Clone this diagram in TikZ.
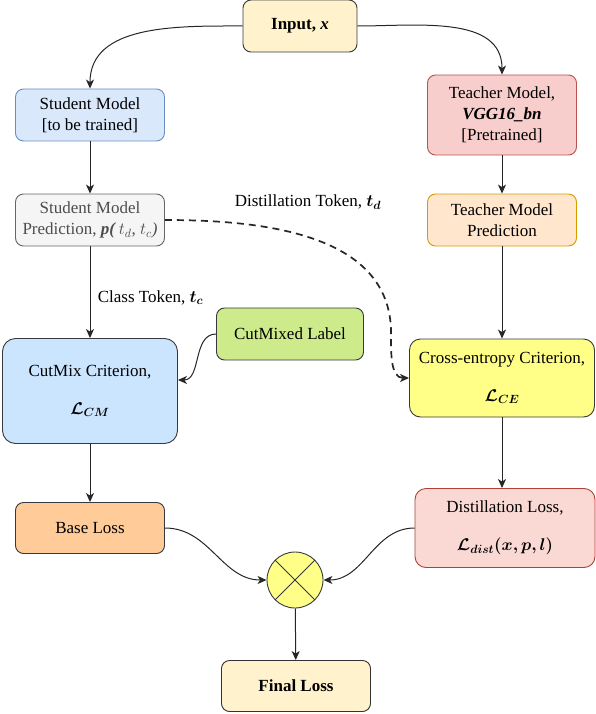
\documentclass[tikz,border=0pt]{standalone}
\usepackage{fix-cm}
\usepackage{amsmath}
\usepackage{bm}
\usepackage{fontspec}
\setmainfont{Liberation Serif}
\usepackage{xcolor}
\usepackage{tikz}
\usetikzlibrary{arrows.meta}
\definecolor{edgegray}{HTML}{36393D}
\tikzstyle{arrow} = [-{Stealth[length=9pt, width=8pt, inset=2.5pt]}, line width=1pt, draw=black!85]
\tikzstyle{box} = [rectangle, rounded corners=8pt, draw=edgegray, line width=0.9pt, minimum width=149pt, minimum height=52pt, inner sep=1pt, align=center]
\tikzstyle{bigbox} = [box, rounded corners=13pt]

\begin{document}
\begin{tikzpicture}[x=1pt, y=1pt, node distance=105pt, every node/.style={font=\fontsize{17}{21}\selectfont}]
		\useasboundingbox (0,0) rectangle (596,-714);

		\node (smodel) [box, fill={rgb,255:red,218;green,232;blue,252}, draw={rgb,255:red,108;green,142;blue,191}] at (90,-115) {Student Model\\{[to be trained]}};
		\node (input) [box, minimum width=114pt, fill={rgb,255:red,255;green,242;blue,204}, above of=smodel, xshift=210pt, yshift=-16pt] {\textbf{Input, \textit{x}}};
		\node (spred) [box, fill={rgb,255:red,245;green,245;blue,245}, draw={rgb,255:red,102;green,102;blue,102}, text={rgb,255:red,77;green,77;blue,77}, below of=smodel] {Student Model\\Prediction, \textbf{\textit{p(}}\,$t_d$, $t_c$\textit{)}};
		\node (cmcrit) [bigbox, minimum width=175pt, minimum height=105pt, fill={rgb,255:red,204;green,229;blue,255}, below of=spred, yshift=-66pt] {CutMix Criterion,\\[17pt] $\bm{\mathcal{L}_{CM}}$};
		\node (cmlabel) [box, minimum width=147pt, fill={rgb,255:red,205;green,235;blue,139}, right of=cmcrit, xshift=95pt, yshift=57pt] {CutMixed Label};
		\node (base) [box, minimum height=51pt, fill={rgb,255:red,255;green,204;blue,153}, below of=cmcrit, yshift=-32pt] {Base Loss};

		\node (tmodel) [box, minimum height=80pt, fill={rgb,255:red,248;green,206;blue,204}, draw={rgb,255:red,184;green,84;blue,80}, right of=smodel, xshift=307pt] {Teacher Model,\\\textbf{\textit{VGG16\_bn}}\\{[Pretrained]}};
		\node (tpred) [box, fill={rgb,255:red,255;green,230;blue,204}, draw={rgb,255:red,215;green,155;blue,0}, below of=tmodel] {Teacher Model\\Prediction};
		\node (cecrit) [bigbox, minimum width=185pt, minimum height=78pt, rounded corners=11pt, fill={rgb,255:red,255;green,255;blue,136}, below of=tpred, yshift=-53pt] {Cross-entropy Criterion,\\[17pt] $\bm{\mathcal{L}_{CE}}$};
		\node (dloss) [bigbox, minimum width=180pt, minimum height=79pt, rounded corners=11pt, fill={rgb,255:red,250;green,217;blue,213}, draw={rgb,255:red,174;green,65;blue,50}, below of=cecrit, xshift=3pt, yshift=-45pt] {Distillation Loss,\\[17pt] $\bm{\mathcal{L}_{dist}(x,p,l)}$};

		\node (mult) [circle, draw=edgegray, line width=0.9pt, fill={rgb,255:red,255;green,255;blue,136}, minimum size=56pt, inner sep=0pt, right of=base, xshift=100pt, yshift=-52pt] {};
		\node (final) [box, minimum height=51pt, fill={rgb,255:red,255;green,242;blue,204}, draw=black!80, below of=mult, xshift=1pt, yshift=-1pt] {\textbf{Final Loss}};
		\node (dtoken) [right of=spred, xshift=113pt, yshift=18pt] {Distillation Token, $\bm{t_d}$};

		\draw [edgegray, line width=0.9pt] (mult.north east) -- (mult.south west);
		\draw [edgegray, line width=0.9pt] (mult.north west) -- (mult.south east);

		\draw [arrow] (input.west) to[out=180, in=90] (smodel.north);
		\draw [arrow] (input.east) to[out=0, in=90] (tmodel.north);
		\draw [arrow] (smodel) -- (spred);
		\draw [arrow] (spred) -- node[pos=0.56, right=4pt] {Class Token, $\bm{t_c}$} (cmcrit);
		\draw [arrow, line width=1.7pt, dash pattern=on 7pt off 5pt] (spred.east) to[out=0, in=90] ([xshift=-18pt, yshift=45pt]cecrit.west) to[out=-90, in=180] (cecrit.west);
		\draw [arrow] (cmlabel.west) to[out=180, in=0] ([yshift=11pt]cmcrit.east);
		\draw [arrow] (tmodel) -- (tpred);
		\draw [arrow] (tpred) -- (cecrit);
		\draw [arrow] (cecrit.south) -- (cecrit.south |- dloss.north);
		\draw [arrow] (cmcrit) -- (base);
		\draw [arrow] (base.east) to[out=0, in=180] (mult.west);
		\draw [arrow] (dloss.west) to[out=180, in=0] (mult.east);
		\draw [arrow] (mult) -- (final);
	\end{tikzpicture}
\end{document}
